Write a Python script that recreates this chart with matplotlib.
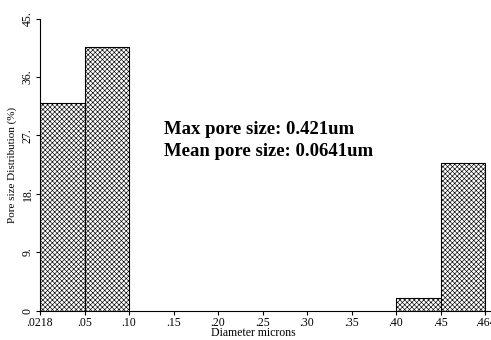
import matplotlib
matplotlib.use("Agg")
import matplotlib.pyplot as plt
import numpy as np

plt.rcParams['font.family'] = ['Liberation Serif', 'DejaVu Serif']
plt.rcParams['hatch.linewidth'] = 0.45
plt.rcParams['hatch.color'] = '#333333'

bin_edges = [".0218", ".05", ".10", ".15", ".20", ".25", ".30", ".35", ".40", ".45", ".464"]
distribution = [32.0, 40.6, 0, 0, 0, 0, 0, 0, 2.0, 22.7]
y_ticks = [0, 9, 18, 27, 36, 45]
y_tick_labels = ["0", "9.", "18.", "27.", "36.", "45."]

fig = plt.figure(figsize=(4.91, 3.40), dpi=100)
ax = fig.add_axes([40/491, 29.5/340, 451/491, 292/340])

pos = np.arange(len(distribution))
for i, v in enumerate(distribution):
    if v > 0:
        ax.bar(pos[i], v, width=1.0, align='edge', facecolor='white',
               edgecolor='black', linewidth=0.8, hatch='xxxxxxx')

ax.set_xlim(0, 451/44.5)
ax.set_ylim(0, 45)
ax.spines['top'].set_visible(False)
ax.spines['right'].set_visible(False)
ax.spines['left'].set_bounds(0, 45)
for s in ('left', 'bottom'):
    ax.spines[s].set_linewidth(0.8)

ax.set_xticks(np.arange(len(bin_edges)))
ax.set_xticklabels(bin_edges, fontsize=8.5)
ax.set_yticks(y_ticks)
ax.set_yticklabels(y_tick_labels, fontsize=8.5, rotation=90, va='center')
ax.tick_params(length=3, width=0.8, pad=1.5)

ax.set_xlabel("Diameter microns", fontsize=8.5)
ax.xaxis.set_label_coords((253 - 40) / 451, -17 / 292)
ax.set_ylabel("Pore size Distribution (%)", fontsize=8)
ax.yaxis.set_label_coords(-23 / 451, 0.5)

fig.text(164/491, 1 - 129/340, "Max pore size: 0.421um",
         fontsize=13.5, fontweight='bold', va='center', ha='left')
fig.text(164/491, 1 - 152/340, "Mean pore size: 0.0641um",
         fontsize=13.5, fontweight='bold', va='center', ha='left')

fig.savefig("out.png", dpi=100)
